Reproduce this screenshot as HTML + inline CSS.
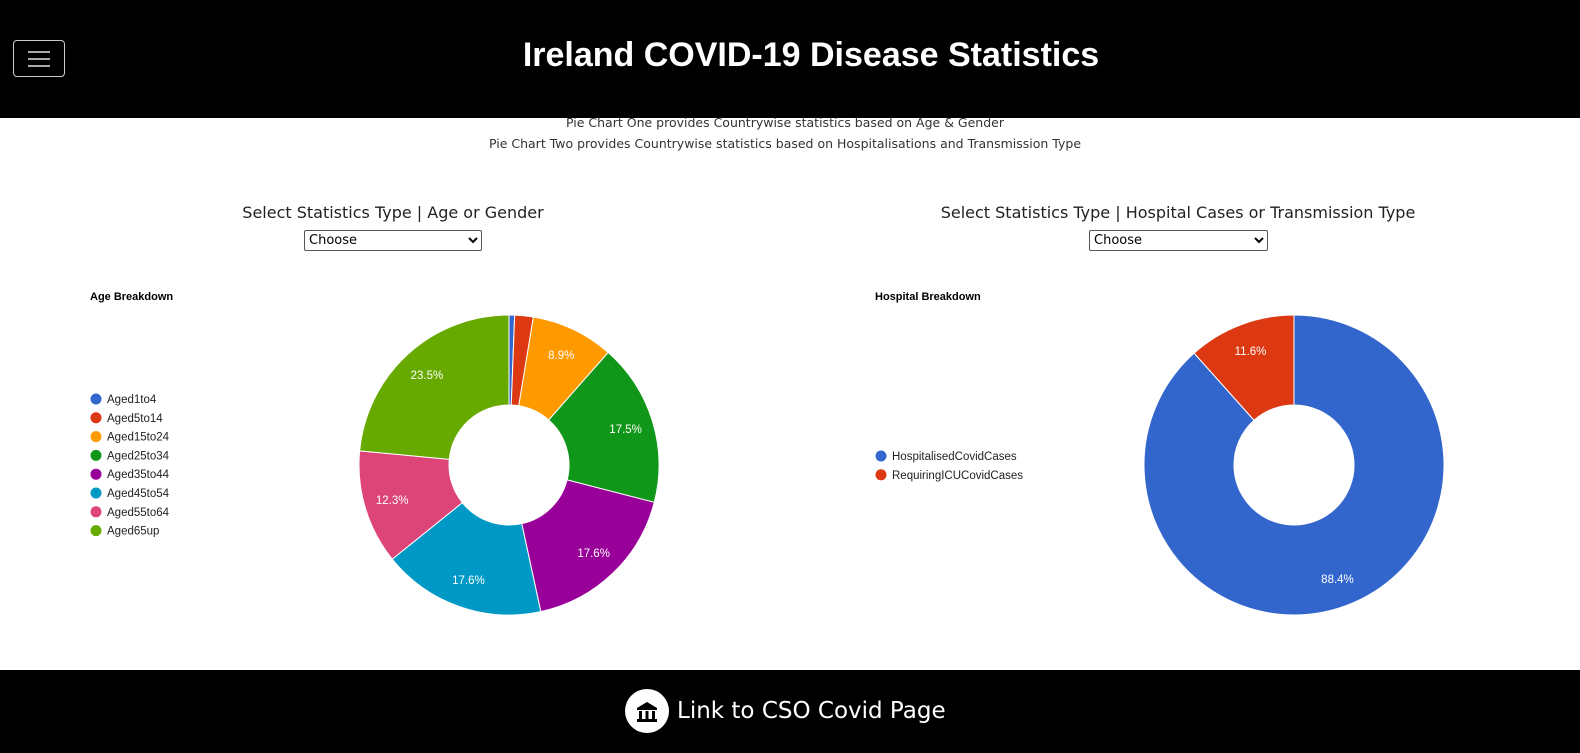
<!DOCTYPE html>
<html><head><meta charset="utf-8">
<style>
body{margin:0;width:1580px;height:753px;overflow:hidden;background:#fff;font-family:"Liberation Sans",sans-serif;position:relative}
.hdr{position:absolute;left:0;top:0;width:1580px;height:118px;background:#000;z-index:2}
.hdr h1{position:absolute;left:0;width:1622px;top:36px;margin:0;text-align:center;color:#fff;font-size:34px;font-weight:bold;font-family:"Liberation Sans",sans-serif}
.burger{position:absolute;left:13px;top:40px;width:50px;height:35px;border:1px solid #ccc;border-radius:4px}
.burger span{position:absolute;left:14px;width:22px;height:2px;background:#aaa}
.sub{position:absolute;left:0;width:1570px;text-align:center;font-size:12.5px;color:#333;font-family:"DejaVu Sans",sans-serif}
.sel-title{position:absolute;text-align:center;font-size:16px;color:#222;font-family:"DejaVu Sans",sans-serif}
select{position:absolute;height:21px;font-size:13px;font-family:"DejaVu Sans",sans-serif;border:1px solid #555;border-radius:2px;background:#fff}
.ftr{position:absolute;left:0;top:670px;width:1580px;height:83px;background:#000}
</style></head><body>
<div class="hdr">
<div class="burger"><span style="top:10px"></span><span style="top:17px"></span><span style="top:24px"></span></div>
<h1>Ireland COVID-19 Disease Statistics</h1>
</div>
<div class="sub" style="top:115px">Pie Chart One provides Countrywise statistics based on Age &amp; Gender</div>
<div class="sub" style="top:136px">Pie Chart Two provides Countrywise statistics based on Hospitalisations and Transmission Type</div>
<div class="sel-title" style="left:193px;width:400px;top:203px">Select Statistics Type | Age or Gender</div>
<select style="left:304px;top:230px;width:178px"><option>Choose</option></select>
<div class="sel-title" style="left:878px;width:600px;top:203px">Select Statistics Type | Hospital Cases or Transmission Type</div>
<select style="left:1089px;top:230px;width:179px"><option>Choose</option></select>
<svg id="chart" width="1580" height="753" style="position:absolute;left:0;top:0"></svg>
<div class="ftr">
<div style="position:absolute;left:625px;top:19px;width:44px;height:44px;border-radius:50%;background:#fff">
<svg width="44" height="44"><polygon points="12,19 22,13 32,19" fill="#000"/><rect x="12" y="19" width="20" height="2" fill="#000"/><rect x="14" y="22" width="3" height="8" fill="#000"/><rect x="20.5" y="22" width="3" height="8" fill="#000"/><rect x="27" y="22" width="3" height="8" fill="#000"/><rect x="12" y="30" width="20" height="3" fill="#000"/></svg></div>
<div style="position:absolute;left:677px;top:28px;color:#fff;font-size:23px;font-family:'DejaVu Sans',sans-serif">Link to CSO Covid Page</div>
</div>
<script>
const ageLabels=["Aged1to4","Aged5to14","Aged15to24","Aged25to34","Aged35to44","Aged45to54","Aged55to64","Aged65up"];
const ageValues=[0.6,2.0,8.9,17.5,17.6,17.6,12.3,23.5];
const ageColors=["#3366cc","#dc3912","#ff9900","#109618","#990099","#0099c6","#dd4477","#66aa00"];
const hospLabels=["HospitalisedCovidCases","RequiringICUCovidCases"];
const hospValues=[88.4,11.6];
const hospColors=["#3366cc","#dc3912"];
const NS="http://www.w3.org/2000/svg";
const svg=document.getElementById('chart');
function mk(t,a){const e=document.createElementNS(NS,t);for(const k in a)e.setAttribute(k,a[k]);svg.appendChild(e);return e;}
function donut(title,labels,values,colors,cx,cy,tx,name){
  let t=mk('text',{x:tx,y:300,'font-size':11,'font-weight':'bold','font-family':'Liberation Sans, sans-serif',fill:'#000'});t.textContent=title;
  
  
  const total=values.reduce((a,b)=>a+b,0);
  const R=150,r=60;
  let ly=labels.length>2?399:456;
  labels.forEach((l,i)=>{
    const c=mk('circle',{cx:tx+6,cy:ly+i*18.8,r:5.5,fill:colors[i]});
    
    
    const lt=mk('text',{x:tx+17,y:ly+i*18.8+4,'font-size':11.5,'font-family':'Liberation Sans, sans-serif',fill:'#222'});lt.textContent=l;
    
    
  });
  let a=0;
  values.forEach((v,i)=>{
    const a0=a/total*2*Math.PI,a1=(a+v)/total*2*Math.PI;a+=v;
    const p=(ang,rad)=>[cx+rad*Math.sin(ang),cy-rad*Math.cos(ang)];
    const [x0,y0]=p(a0,R),[x1,y1]=p(a1,R),[x2,y2]=p(a1,r),[x3,y3]=p(a0,r);
    const lg=(a1-a0)>Math.PI?1:0;
    const s=mk('path',{d:`M${x0},${y0}A${R},${R} 0 ${lg} 1 ${x1},${y1}L${x2},${y2}A${r},${r} 0 ${lg} 0 ${x3},${y3}Z`,fill:colors[i],stroke:'#fff','stroke-width':1});
    
    
    if(v/total>0.05){
      const [lx,ly2]=p((a0+a1)/2,122);
      const tt=mk('text',{x:lx,y:ly2+4,'text-anchor':'middle','font-size':11.5,'font-family':'Liberation Sans, sans-serif',fill:'#fff'});
      tt.textContent=(v/total*100).toFixed(1)+'%';
      
      
    }
  });
}
donut("Age Breakdown",ageLabels,ageValues,ageColors,509,465,90,'age-chart');
donut("Hospital Breakdown",hospLabels,hospValues,hospColors,1294,465,875,'hospital-chart');
</script>
</body></html>
